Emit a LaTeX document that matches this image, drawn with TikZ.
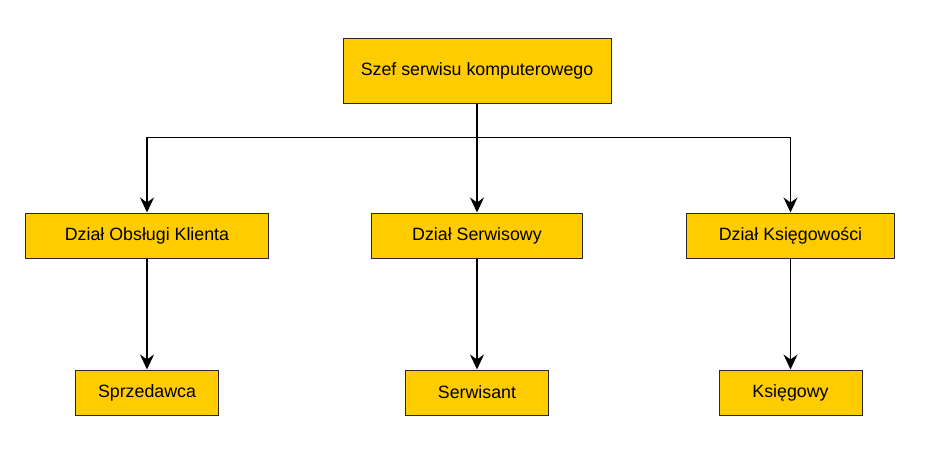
\documentclass[tikz,border=0pt]{standalone}
\usepackage{fontspec}
\setmainfont{Liberation Sans}
\definecolor{boxfill}{RGB}{255,204,0}
\definecolor{boxline}{RGB}{40,40,40}
\usetikzlibrary{positioning, arrows.meta}

\begin{document}
\begin{tikzpicture}[
                    every node/.style = {draw=boxline, line width=1pt, fill=boxfill, text=black,
                                         inner sep=0pt, minimum height=45pt,
                                         font=\fontsize{17.8}{21}\selectfont},
                    every edge/.style = {draw, line width=1.2pt, -{Stealth[length=15pt, width=14pt, inset=5pt]}},
                    arr/.style = {line width=1.2pt, -{Stealth[length=15pt, width=14pt, inset=5pt]}}]
            \useasboundingbox (0,0) rectangle (930pt,-463pt);
            \begin{scope}[node distance=109pt and 102pt]
                \node (szef) [minimum width=268pt, minimum height=65pt] at (477pt,-70.5pt) {Szef serwisu komputerowego};
                \node (dser) [minimum width=211pt, below = of szef] {Dział Serwisowy};
                \node (dok)  [minimum width=243pt, left = of dser] {Dział Obsługi Klienta};
                \node (dks)  [minimum width=208pt, right = 103pt of dser] {Dział Księgowości};

                \node (sprz) [minimum width=143pt, below = 111pt of dok] {Sprzedawca};
                \node (serw) [minimum width=143pt, below = 111pt of dser] {Serwisant};
                \node (ksie) [minimum width=143pt, below = 111pt of dks] {Księgowy};

                \coordinate (bus) at ([yshift=-34pt]szef.south);
                \draw [line width=1.2pt] (szef) -- (bus);
                \draw [arr] (bus) -| (dok);
                \draw (bus) edge (dser);
                \draw [arr] (bus) -| (dks);

                \draw (dok)  edge (sprz);
                \draw (dser) edge (serw);
                \draw (dks)  edge (ksie);
            \end{scope}
            \end{tikzpicture}
\end{document}
